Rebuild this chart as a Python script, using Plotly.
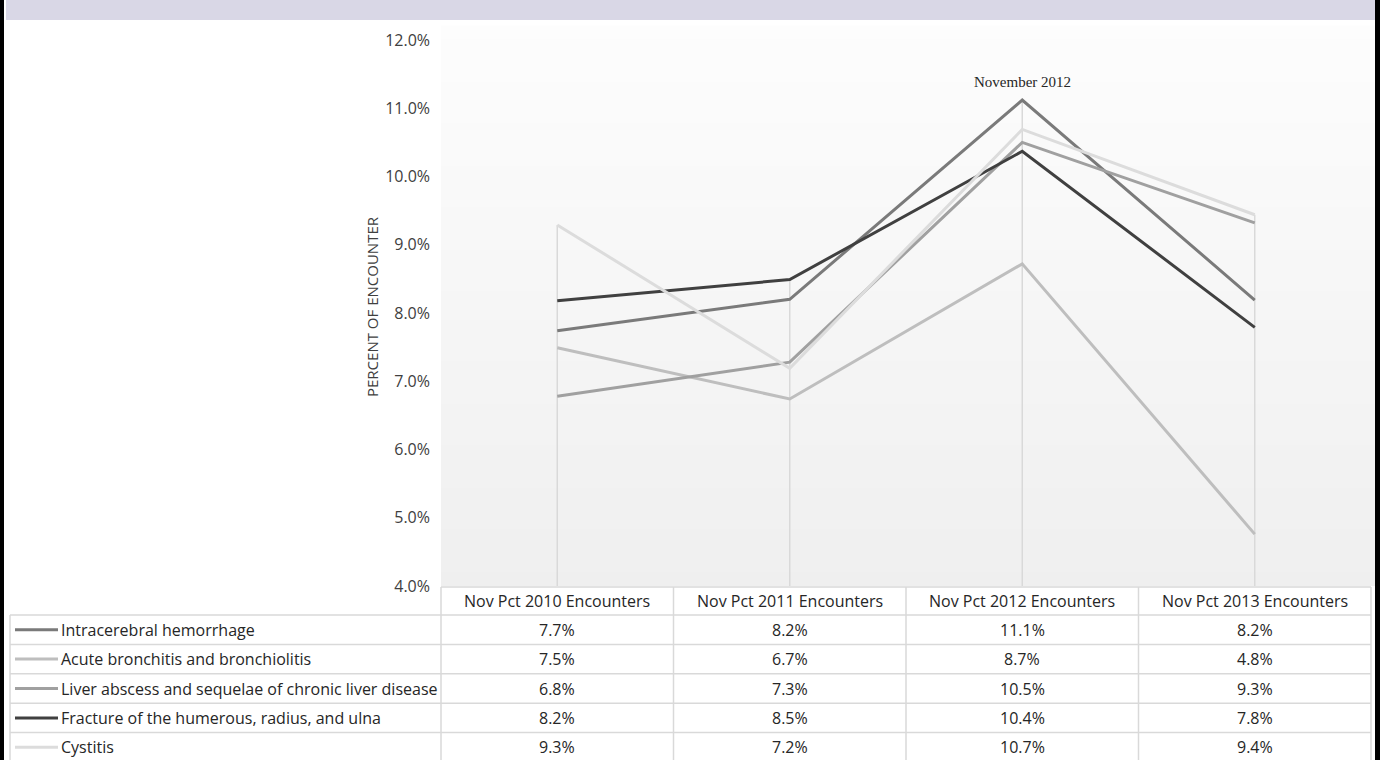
import plotly.graph_objects as go

# ---------------- data ----------------
categories = ["Nov Pct 2010 Encounters", "Nov Pct 2011 Encounters",
              "Nov Pct 2012 Encounters", "Nov Pct 2013 Encounters"]
series_names = ["Intracerebral hemorrhage",
                "Acute bronchitis and bronchiolitis",
                "Liver abscess and sequelae of chronic liver disease",
                "Fracture of the humerous, radius, and ulna",
                "Cystitis"]
intracerebral = [7.74, 8.20, 11.12, 8.19]
acute_bronchitis = [7.49, 6.74, 8.72, 4.76]
liver_abscess = [6.78, 7.28, 10.50, 9.32]
fracture = [8.18, 8.49, 10.37, 7.79]
cystitis = [9.29, 7.19, 10.69, 9.44]
y_tick_values = [4, 5, 6, 7, 8, 9, 10, 11, 12]
axis_title = "PERCENT OF ENCOUNTER"
peak_label = "November 2012"
peak_category = "Nov Pct 2012 Encounters"

series_values = [intracerebral, acute_bronchitis, liver_abscess, fracture, cystitis]
series_colors = ["#7A7A7A", "#BEBEBE", "#A0A0A0", "#404040", "#DCDCDC"]

# ---------------- layout helpers (pixels -> paper) ----------------
W, H = 1382, 760
def px(x):
    return x / W
def py(y):
    return (H - y) / H

PLOT_L, PLOT_R = 441, 1371
PLOT_T, PLOT_B = 26, 586
Y_MIN, Y_MAX = 4.0, 12.0 + (40 - PLOT_T) / ((PLOT_B - 40) / 8.0)

FONT = "Open Sans"
TEXT_COL = "#262626"
GRID_COL = "#D9D9D9"

fig = go.Figure()

# drop lines (from axis to highest value in each category)
drop_x, drop_y = [], []
for i, c in enumerate(categories):
    top = max(s[i] for s in series_values)
    drop_x += [c, c, None]
    drop_y += [Y_MIN, top, None]
fig.add_trace(go.Scatter(x=drop_x, y=drop_y, mode="lines",
                         line=dict(color=GRID_COL, width=1.5),
                         hoverinfo="skip", showlegend=False))

for name, vals, col in zip(series_names, series_values, series_colors):
    fig.add_trace(go.Scatter(x=categories, y=vals, mode="lines", name=name,
                             line=dict(color=col, width=3),
                             showlegend=False))

shapes = []

# background gradient of plot area
n_bands = 40
top_c, bot_c = 0xFD, 0xEF
for k in range(n_bands):
    y0 = PLOT_T + (PLOT_B - PLOT_T) * k / n_bands
    y1 = PLOT_T + (PLOT_B - PLOT_T) * (k + 1) / n_bands
    v = round(top_c + (bot_c - top_c) * (k + 0.5) / n_bands)
    col = "#%02X%02X%02X" % (v, v, v)
    shapes.append(dict(type="rect", xref="paper", yref="paper",
                       x0=px(PLOT_L), x1=px(1375), y0=py(y1), y1=py(y0) + 0.0005,
                       fillcolor=col, line=dict(width=0), layer="below"))

# title band and frame
shapes.append(dict(type="rect", xref="paper", yref="paper",
                   x0=px(6), x1=px(1376), y0=py(20), y1=1,
                   fillcolor="#D9D7E6", line=dict(width=0), layer="below"))
shapes.append(dict(type="line", xref="paper", yref="paper",
                   x0=px(2), x1=px(2), y0=0, y1=1,
                   line=dict(color="#000000", width=4)))
shapes.append(dict(type="line", xref="paper", yref="paper",
                   x0=px(1377.5), x1=px(1377.5), y0=0, y1=1,
                   line=dict(color="#000000", width=5)))

# data table grid
HEADER_T = 587
ROW_T = 615
ROW_H = 29.4
n_rows = len(series_names)
table_bottom = ROW_T + ROW_H * n_rows
col_w = (PLOT_R - PLOT_L) / len(categories)
col_edges = [PLOT_L + col_w * i for i in range(len(categories) + 1)]
line_style = dict(color=GRID_COL, width=1.5)

shapes.append(dict(type="line", xref="paper", yref="paper",
                   x0=px(PLOT_L), x1=px(PLOT_R), y0=py(HEADER_T), y1=py(HEADER_T),
                   line=line_style))
for r in range(n_rows + 1):
    yy = ROW_T + ROW_H * r
    shapes.append(dict(type="line", xref="paper", yref="paper",
                       x0=px(10), x1=px(PLOT_R), y0=py(yy), y1=py(yy),
                       line=line_style))
shapes.append(dict(type="line", xref="paper", yref="paper",
                   x0=px(10), x1=px(10), y0=py(ROW_T), y1=py(table_bottom),
                   line=line_style))
for xe in col_edges:
    shapes.append(dict(type="line", xref="paper", yref="paper",
                       x0=px(xe), x1=px(xe), y0=py(HEADER_T), y1=py(table_bottom),
                       line=line_style))

annotations = []
TABLE_FS = 16
# header cells
for c in categories:
    annotations.append(dict(x=c, xref="x", y=py((HEADER_T + ROW_T) / 2), yref="paper",
                            text=c, showarrow=False, xanchor="center", yanchor="middle",
                            font=dict(family=FONT, size=TABLE_FS, color=TEXT_COL)))
# rows
for r, (name, vals, col) in enumerate(zip(series_names, series_values, series_colors)):
    yc = ROW_T + ROW_H * r + ROW_H / 2
    shapes.append(dict(type="line", xref="paper", yref="paper",
                       x0=px(15), x1=px(58), y0=py(yc), y1=py(yc),
                       line=dict(color=col, width=3)))
    annotations.append(dict(x=px(59), xref="paper", y=py(yc), yref="paper",
                            text=name, showarrow=False, xanchor="left", yanchor="middle",
                            font=dict(family=FONT, size=TABLE_FS, color=TEXT_COL)))
    for c, v in zip(categories, vals):
        annotations.append(dict(x=c, xref="x", y=py(yc), yref="paper",
                                text=f"{v:.1f}%", showarrow=False,
                                xanchor="center", yanchor="middle",
                                font=dict(family=FONT, size=TABLE_FS, color=TEXT_COL)))

# axis title
annotations.append(dict(x=px(372), xref="paper", y=py(306), yref="paper",
                        text=axis_title, textangle=-90, showarrow=False,
                        xanchor="center", yanchor="middle",
                        font=dict(family=FONT, size=15, color="#404040")))

# peak label
peak_idx = categories.index(peak_category)
peak_val = max(s[peak_idx] for s in series_values)
annotations.append(dict(x=peak_category, xref="x", y=peak_val, yref="y",
                        text=peak_label, showarrow=False, xanchor="center",
                        yanchor="bottom", yshift=8,
                        font=dict(family="Liberation Serif", size=15, color="#262626")))

fig.update_layout(
    width=W, height=H, autosize=False,
    margin=dict(l=0, r=0, t=0, b=0, autoexpand=False),
    paper_bgcolor="white",
    plot_bgcolor="rgba(0,0,0,0)",
    showlegend=False,
    shapes=shapes,
    annotations=annotations,
    xaxis=dict(domain=[px(PLOT_L), px(PLOT_R)], type="category",
               range=[-0.5, len(categories) - 0.5],
               showticklabels=False, showgrid=False, zeroline=False,
               showline=False, ticks=""),
    yaxis=dict(domain=[py(PLOT_B), py(PLOT_T)], range=[Y_MIN, Y_MAX],
               tickvals=y_tick_values,
               ticktext=[f"{v:.1f}%" for v in y_tick_values],
               showgrid=False, zeroline=False, showline=False, ticks="",
               ticklabelstandoff=10,
               tickfont=dict(family=FONT, size=16, color="#404040")),
)

fig.write_html(
    "out.html",
    config={"responsive": False, "displayModeBar": False},
    post_script="document.documentElement.style.margin='0';"
                "document.documentElement.style.overflow='hidden';"
                "document.body.style.margin='0';"
                "document.body.style.padding='0';"
                "document.body.style.overflow='hidden';",
)
